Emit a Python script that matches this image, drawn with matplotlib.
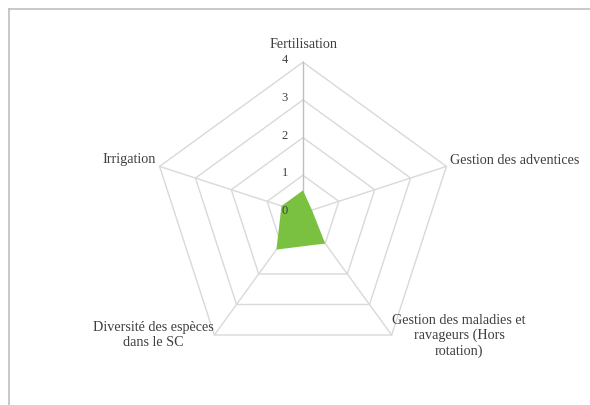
import numpy as np
import matplotlib.pyplot as plt
from matplotlib.lines import Line2D

categories = [
    "Fertilisation",
    "Gestion des adventices",
    "Gestion des maladies et\nravageurs (Hors\nrotation)",
    "Diversité des espèces\ndans le SC",
    "Irrigation",
]
values = [0.6, 0.25, 1.0, 1.2, 0.6]
levels = [0, 1, 2, 3, 4]

plt.rcParams["font.family"] = ["Liberation Serif", "DejaVu Serif"]

W, H = 590, 405
cx, cy = 303, 213      # centre in pixels (from top-left)
unit = 37.7            # pixels per value unit

fig = plt.figure(figsize=(W / 100, H / 100), dpi=100)
ax = fig.add_axes([0, 0, 1, 1])
ax.set_xlim(-cx / unit, (W - cx) / unit)
ax.set_ylim(-(H - cy) / unit, cy / unit)
ax.set_aspect("equal")
ax.axis("off")

n = len(categories)
ang = np.pi / 2 - 2 * np.pi * np.arange(n) / n
ux, uy = np.cos(ang), np.sin(ang)

# pentagon grid
for lv in levels[1:]:
    xs = np.append(ux * lv, ux[0] * lv)
    ys = np.append(uy * lv, uy[0] * lv)
    ax.plot(xs, ys, color="#d9d9d9", lw=1.0, zorder=1)
# spokes
for i in range(n):
    col = "#bfbfbf" if i == 0 else "#d9d9d9"
    ax.plot([0, ux[i] * 4], [0, uy[i] * 4], color=col, lw=1.0, zorder=1)

# data
v = np.array(values)
ax.fill(ux * v, uy * v, color="#7ac142", zorder=2, lw=0)

# radial tick labels
for lv in levels:
    ax.text(-18 / unit, lv + 0.05, str(lv), ha="center", va="center",
            fontsize=9, color="#404040", zorder=3)

# category labels (pixel positions)
lab_pos = [
    (304, 45, "center"),
    (450, 160, "left"),
    (459, 336, "center"),
    (153, 335, "center"),
    (156, 160, "right"),
]
for txt, (px, py, ha) in zip(categories, lab_pos):
    ax.text((px - cx) / unit, (cy - py) / unit, txt, ha=ha, va="center",
            fontsize=10.2, color="#404040", linespacing=1.15)

# outer frame (cropped)
fig.add_artist(Line2D([9 / W, 9 / W], [0, 1 - 9 / H], color="#bfbfbf", lw=1.2))
fig.add_artist(Line2D([9 / W, 1], [1 - 9 / H, 1 - 9 / H], color="#bfbfbf", lw=1.2))

fig.savefig("out.png", dpi=100)
